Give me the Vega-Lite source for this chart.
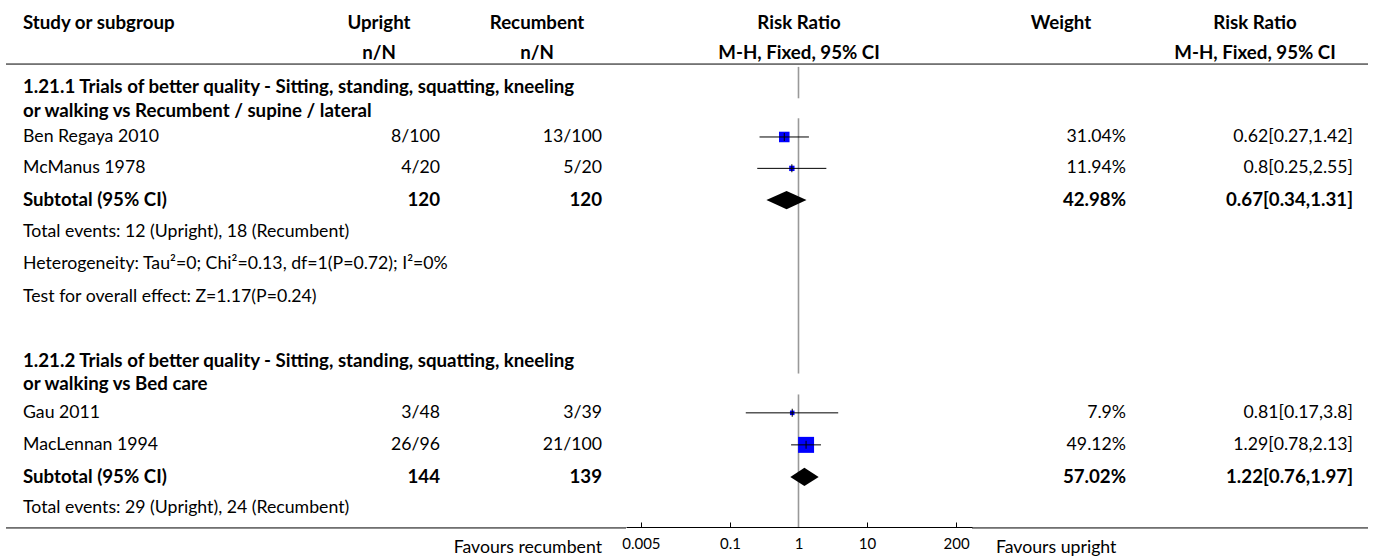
{
"$schema": "https://vega.github.io/schema/vega-lite/v6.json",
"padding": {"left": 5, "top": 0, "right": 0, "bottom": 0},
"spacing": 0,
"bounds": "flush",
"config": {"view": {"stroke": null}, "text": {"font": "Lato", "fontSize": 17.7, "color": "#000"}, "axis": {"labelFont": "Lato", "labelFontSize": 15, "labelColor": "#000"}},
"datasets": {
"rows": [
{"row": 0.44, "kind": "header", "study": "Study or subgroup", "up": "Upright", "rec": "Recumbent", "rrplot": "Risk Ratio", "weight": "Weight", "rr": "Risk Ratio"},
{"row": 1.38, "kind": "header", "up": "n/N", "rec": "n/N", "rrplot": "M-H, Fixed, 95% CI", "rr": "M-H, Fixed, 95% CI"},
{"row": 2.45, "kind": "heading", "study": "1.21.1 Trials of better quality - Sitting, standing, squatting, kneeling"},
{"row": 3.2, "kind": "heading", "study": "or walking vs Recumbent / supine / lateral"},
{"row": 4.03, "kind": "study", "study": "Ben Regaya 2010", "up": "8/100", "rec": "13/100", "weight": "31.04%", "rr": "0.62[0.27,1.42]", "w": 31.04, "est": 0.62, "lo": 0.27, "hi": 1.42},
{"row": 5.02, "kind": "study", "study": "McManus 1978", "up": "4/20", "rec": "5/20", "weight": "11.94%", "rr": "0.8[0.25,2.55]", "w": 11.94, "est": 0.8, "lo": 0.25, "hi": 2.55},
{"row": 6.02, "kind": "subtotal", "study": "Subtotal (95% CI)", "up": "120", "rec": "120", "weight": "42.98%", "rr": "0.67[0.34,1.31]", "est": 0.67, "lo": 0.34, "hi": 1.31},
{"row": 7.02, "kind": "note", "study": "Total events: 12 (Upright), 18 (Recumbent)"},
{"row": 8.02, "kind": "note", "study": "Heterogeneity: Tau²=0; Chi²=0.13, df=1(P=0.72); I²=0%"},
{"row": 9.07, "kind": "note", "study": "Test for overall effect: Z=1.17(P=0.24)"},
{"row": 11.1, "kind": "heading", "study": "1.21.2 Trials of better quality - Sitting, standing, squatting, kneeling"},
{"row": 11.82, "kind": "heading", "study": "or walking vs Bed care"},
{"row": 12.73, "kind": "study", "study": "Gau 2011", "up": "3/48", "rec": "3/39", "weight": "7.9%", "rr": "0.81[0.17,3.8]", "w": 7.9, "est": 0.81, "lo": 0.17, "hi": 3.8},
{"row": 13.74, "kind": "study", "study": "MacLennan 1994", "up": "26/96", "rec": "21/100", "weight": "49.12%", "rr": "1.29[0.78,2.13]", "w": 49.12, "est": 1.29, "lo": 0.78, "hi": 2.13},
{"row": 14.75, "kind": "subtotal", "study": "Subtotal (95% CI)", "up": "144", "rec": "139", "weight": "57.02%", "rr": "1.22[0.76,1.97]", "est": 1.22, "lo": 0.76, "hi": 1.97},
{"row": 15.72, "kind": "note", "study": "Total events: 29 (Upright), 24 (Recumbent)"},
{"row": 16.98, "kind": "footer", "rec": "Favours recumbent", "weight": "Favours upright"}
],
"lines": [{"pos": 1.73, "which": "top"}, {"pos": 16.36, "which": "bottom"}],
"refseg": [{"y1": 1.82, "y2": 2.81}, {"y1": 3.44, "y2": 11.49}, {"y1": 12.15, "y2": 16.33}]
},
"hconcat": [
{"width": 312, "height": 527, "layer": [
 {"data": {"name": "lines"}, "mark": {"type": "rule", "color": "#000", "strokeWidth": 1}, "encoding": {"y": {"field": "pos", "type": "quantitative", "scale": {"domain": [-0.29, 16.33], "reverse": true, "nice": false, "zero": false}, "axis": null}}},
 {"data": {"name": "rows"}, "transform": [{"filter": "datum.study != null"}], "mark": {"type": "text", "align": "left", "dx": 17, "fontWeight": {"expr": "datum.kind === 'header' || datum.kind === 'heading' || datum.kind === 'subtotal' ? 'bold' : 'normal'"}, "fontSize": {"expr": "datum.kind === 'header' || datum.kind === 'heading' || datum.kind === 'subtotal' ? 18.7 : 17.7"}}, "encoding": {"x": {"value": 0}, "y": {"field": "row", "type": "quantitative", "scale": {"domain": [-0.29, 16.33], "reverse": true, "nice": false, "zero": false}, "axis": null}, "text": {"field": "study", "type": "nominal"}}}
]},
{"width": 122, "height": 527, "layer": [
 {"data": {"name": "lines"}, "mark": {"type": "rule", "color": "#000", "strokeWidth": 1}, "encoding": {"y": {"field": "pos", "type": "quantitative", "scale": {"domain": [-0.29, 16.33], "reverse": true, "nice": false, "zero": false}, "axis": null}}},
 {"data": {"name": "rows"}, "transform": [{"filter": "datum.kind === 'header' && datum.up != null"}], "mark": {"type": "text", "align": "center", "fontWeight": "bold", "fontSize": 18.7}, "encoding": {"y": {"field": "row", "type": "quantitative", "scale": {"domain": [-0.29, 16.33], "reverse": true, "nice": false, "zero": false}, "axis": null}, "text": {"field": "up", "type": "nominal"}}},
 {"data": {"name": "rows"}, "transform": [{"filter": "datum.kind !== 'header' && datum.up != null"}], "mark": {"type": "text", "align": "right", "fontWeight": {"expr": "datum.kind === 'subtotal' ? 'bold' : 'normal'"}, "fontSize": {"expr": "datum.kind === 'subtotal' ? 18.7 : 17.7"}}, "encoding": {"x": {"value": "width"}, "y": {"field": "row", "type": "quantitative", "scale": {"domain": [-0.29, 16.33], "reverse": true, "nice": false, "zero": false}, "axis": null}, "text": {"field": "up", "type": "nominal"}}}
]},
{"width": 32, "height": 527, "data": {"name": "lines"}, "mark": {"type": "rule", "color": "#000", "strokeWidth": 1}, "encoding": {"y": {"field": "pos", "type": "quantitative", "scale": {"domain": [-0.29, 16.33], "reverse": true, "nice": false, "zero": false}, "axis": null}}},
{"width": 130, "height": 527, "layer": [
 {"data": {"name": "lines"}, "mark": {"type": "rule", "color": "#000", "strokeWidth": 1}, "encoding": {"y": {"field": "pos", "type": "quantitative", "scale": {"domain": [-0.29, 16.33], "reverse": true, "nice": false, "zero": false}, "axis": null}}},
 {"data": {"name": "rows"}, "transform": [{"filter": "datum.kind === 'header' && datum.rec != null"}], "mark": {"type": "text", "align": "center", "fontWeight": "bold", "fontSize": 18.7}, "encoding": {"y": {"field": "row", "type": "quantitative", "scale": {"domain": [-0.29, 16.33], "reverse": true, "nice": false, "zero": false}, "axis": null}, "text": {"field": "rec", "type": "nominal"}}},
 {"data": {"name": "rows"}, "transform": [{"filter": "datum.kind !== 'header' && datum.rec != null"}], "mark": {"type": "text", "align": "right", "fontWeight": {"expr": "datum.kind === 'subtotal' ? 'bold' : 'normal'"}, "fontSize": {"expr": "datum.kind === 'subtotal' ? 18.7 : 17.7"}}, "encoding": {"x": {"value": "width"}, "y": {"field": "row", "type": "quantitative", "scale": {"domain": [-0.29, 16.33], "reverse": true, "nice": false, "zero": false}, "axis": null}, "text": {"field": "rec", "type": "nominal"}}}
]},
{"width": 24, "height": 527, "data": {"name": "lines"}, "mark": {"type": "rule", "color": "#000", "strokeWidth": 1}, "encoding": {"y": {"field": "pos", "type": "quantitative", "scale": {"domain": [-0.29, 16.33], "reverse": true, "nice": false, "zero": false}, "axis": null}}},
{"width": 346, "height": 527, "layer": [
 {"data": {"name": "lines"}, "transform": [{"filter": "datum.which === 'top'"}], "mark": {"type": "rule", "color": "#000", "strokeWidth": 1}, "encoding": {"y": {"field": "pos", "type": "quantitative", "scale": {"domain": [-0.29, 16.33], "reverse": true, "nice": false, "zero": false}, "axis": null}}},
 {"data": {"name": "refseg"}, "mark": {"type": "rule", "color": "#999", "strokeWidth": 1.6}, "encoding": {"x": {"datum": 1, "type": "quantitative", "title": null, "scale": {"type": "log", "domain": [0.003034, 341], "nice": false}, "axis": {"values": [0.005, 0.1, 1, 10, 200], "format": "~g", "grid": false, "domainColor": "#000", "tickColor": "#000", "tickSize": -5, "labelPadding": 14, "labelFlush": false, "labelOverlap": false}}, "y": {"field": "y1", "type": "quantitative", "scale": {"domain": [-0.29, 16.33], "reverse": true, "nice": false, "zero": false}, "axis": null}, "y2": {"field": "y2"}}},
 {"data": {"name": "rows"}, "transform": [{"filter": "datum.kind === 'subtotal'"}, {"fold": ["lo", "est", "hi"], "as": ["pt", "val"]}, {"calculate": "datum.pt === 'est' ? datum.row - 0.29 : datum.row", "as": "top"}, {"calculate": "datum.pt === 'est' ? datum.row + 0.29 : datum.row", "as": "bot"}], "mark": {"type": "area", "orient": "vertical", "color": "#000", "opacity": 1}, "encoding": {"x": {"field": "val", "type": "quantitative", "title": null, "scale": {"type": "log", "domain": [0.003034, 341], "nice": false}}, "y": {"field": "top", "type": "quantitative", "stack": null, "scale": {"domain": [-0.29, 16.33], "reverse": true, "nice": false, "zero": false}, "axis": null}, "y2": {"field": "bot"}, "detail": {"field": "row", "type": "nominal"}}},
 {"data": {"name": "rows"}, "transform": [{"filter": "datum.kind === 'study'"}], "mark": {"type": "point", "shape": "square", "filled": true, "color": "#0000FF", "opacity": 1}, "encoding": {"x": {"field": "est", "type": "quantitative", "title": null, "scale": {"type": "log", "domain": [0.003034, 341], "nice": false}}, "y": {"field": "row", "type": "quantitative", "scale": {"domain": [-0.29, 16.33], "reverse": true, "nice": false, "zero": false}, "axis": null}, "size": {"field": "w", "type": "quantitative", "scale": {"type": "pow", "exponent": 2, "domain": [4, 49.12], "range": [16, 256]}, "legend": null}}},
 {"data": {"name": "rows"}, "transform": [{"filter": "datum.kind === 'study'"}], "mark": {"type": "rule", "color": "#000", "strokeWidth": 1}, "encoding": {"x": {"field": "lo", "type": "quantitative", "title": null, "scale": {"type": "log", "domain": [0.003034, 341], "nice": false}}, "x2": {"field": "hi"}, "y": {"field": "row", "type": "quantitative", "scale": {"domain": [-0.29, 16.33], "reverse": true, "nice": false, "zero": false}, "axis": null}}},
 {"data": {"name": "rows"}, "transform": [{"filter": "datum.kind === 'study'"}], "mark": {"type": "tick", "orient": "vertical", "size": 8, "thickness": 1, "color": "#000", "opacity": 1}, "encoding": {"x": {"field": "est", "type": "quantitative", "title": null, "scale": {"type": "log", "domain": [0.003034, 341], "nice": false}}, "y": {"field": "row", "type": "quantitative", "scale": {"domain": [-0.29, 16.33], "reverse": true, "nice": false, "zero": false}, "axis": null}}},
 {"data": {"name": "rows"}, "transform": [{"filter": "datum.kind === 'header' && datum.rrplot != null"}], "mark": {"type": "text", "align": "center", "fontWeight": "bold", "fontSize": 18.7}, "encoding": {"y": {"field": "row", "type": "quantitative", "scale": {"domain": [-0.29, 16.33], "reverse": true, "nice": false, "zero": false}, "axis": null}, "text": {"field": "rrplot", "type": "nominal"}}}
]},
{"width": 24, "height": 527, "data": {"name": "lines"}, "mark": {"type": "rule", "color": "#000", "strokeWidth": 1}, "encoding": {"y": {"field": "pos", "type": "quantitative", "scale": {"domain": [-0.29, 16.33], "reverse": true, "nice": false, "zero": false}, "axis": null}}},
{"width": 130, "height": 527, "layer": [
 {"data": {"name": "lines"}, "mark": {"type": "rule", "color": "#000", "strokeWidth": 1}, "encoding": {"y": {"field": "pos", "type": "quantitative", "scale": {"domain": [-0.29, 16.33], "reverse": true, "nice": false, "zero": false}, "axis": null}}},
 {"data": {"name": "rows"}, "transform": [{"filter": "datum.kind === 'header' && datum.weight != null"}], "mark": {"type": "text", "align": "center", "fontWeight": "bold", "fontSize": 18.7}, "encoding": {"y": {"field": "row", "type": "quantitative", "scale": {"domain": [-0.29, 16.33], "reverse": true, "nice": false, "zero": false}, "axis": null}, "text": {"field": "weight", "type": "nominal"}}},
 {"data": {"name": "rows"}, "transform": [{"filter": "datum.kind !== 'header' && datum.kind !== 'footer' && datum.weight != null"}], "mark": {"type": "text", "align": "right", "fontWeight": {"expr": "datum.kind === 'subtotal' ? 'bold' : 'normal'"}, "fontSize": {"expr": "datum.kind === 'subtotal' ? 18.7 : 17.7"}}, "encoding": {"x": {"value": "width"}, "y": {"field": "row", "type": "quantitative", "scale": {"domain": [-0.29, 16.33], "reverse": true, "nice": false, "zero": false}, "axis": null}, "text": {"field": "weight", "type": "nominal"}}},
 {"data": {"name": "rows"}, "transform": [{"filter": "datum.kind === 'footer'"}], "mark": {"type": "text", "align": "left"}, "encoding": {"x": {"value": 0}, "y": {"field": "row", "type": "quantitative", "scale": {"domain": [-0.29, 16.33], "reverse": true, "nice": false, "zero": false}, "axis": null}, "text": {"field": "weight", "type": "nominal"}}}
]},
{"width": 31, "height": 527, "data": {"name": "lines"}, "mark": {"type": "rule", "color": "#000", "strokeWidth": 1}, "encoding": {"y": {"field": "pos", "type": "quantitative", "scale": {"domain": [-0.29, 16.33], "reverse": true, "nice": false, "zero": false}, "axis": null}}},
{"width": 196, "height": 527, "layer": [
 {"data": {"name": "lines"}, "mark": {"type": "rule", "color": "#000", "strokeWidth": 1}, "encoding": {"y": {"field": "pos", "type": "quantitative", "scale": {"domain": [-0.29, 16.33], "reverse": true, "nice": false, "zero": false}, "axis": null}}},
 {"data": {"name": "rows"}, "transform": [{"filter": "datum.kind === 'header' && datum.rr != null"}], "mark": {"type": "text", "align": "center", "fontWeight": "bold", "fontSize": 18.7}, "encoding": {"y": {"field": "row", "type": "quantitative", "scale": {"domain": [-0.29, 16.33], "reverse": true, "nice": false, "zero": false}, "axis": null}, "text": {"field": "rr", "type": "nominal"}}},
 {"data": {"name": "rows"}, "transform": [{"filter": "datum.kind !== 'header' && datum.rr != null"}], "mark": {"type": "text", "align": "right", "fontWeight": {"expr": "datum.kind === 'subtotal' ? 'bold' : 'normal'"}, "fontSize": {"expr": "datum.kind === 'subtotal' ? 18.7 : 17.7"}}, "encoding": {"x": {"value": "width"}, "y": {"field": "row", "type": "quantitative", "scale": {"domain": [-0.29, 16.33], "reverse": true, "nice": false, "zero": false}, "axis": null}, "text": {"field": "rr", "type": "nominal"}}}
]},
{"width": 15, "height": 527, "data": {"name": "lines"}, "mark": {"type": "rule", "color": "#000", "strokeWidth": 1}, "encoding": {"y": {"field": "pos", "type": "quantitative", "scale": {"domain": [-0.29, 16.33], "reverse": true, "nice": false, "zero": false}, "axis": null}}}
]
}
